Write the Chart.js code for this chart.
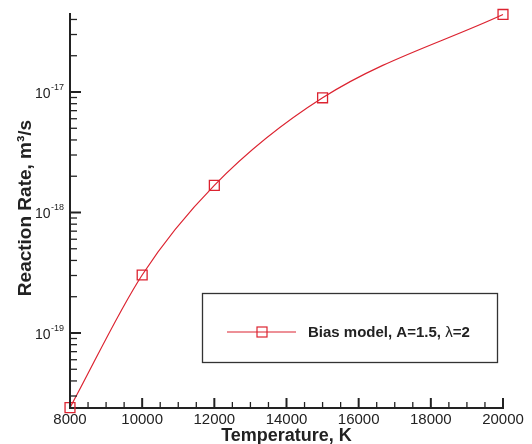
<!DOCTYPE html>
<html>
<head>
<meta charset="utf-8">
<script src="https://cdn.jsdelivr.net/npm/chart.js@4"></script>
<style>
    html, body { margin: 0; padding: 0; background: #fff; }
    #wrap { width: 532px; height: 444px; }
</style>
</head>
<body>
<div id="wrap"><canvas id="myLineChart" width="532" height="444"></canvas></div>
<script>
// data
var temperatures = [8000, 10000, 12000, 15000, 20000];
var rates = [2.4e-20, 3.03e-19, 1.68e-18, 8.95e-18, 4.4e-17];
var seriesLabel = 'Bias model, A=1.5, ';

// axes
var xTickValues = [8000, 10000, 12000, 14000, 16000, 18000, 20000];
var xMinorStep = 500;
var yDecades = [-19, -18, -17];
var xTitle = 'Temperature, K';
var yTitle = 'Reaction Rate, m\u00b3/s';

var lineColor = '#dc2330';
var axisColor = '#222222';
var fontFamily = '"Liberation Sans", Arial, Helvetica, sans-serif';

var decoPlugin = {
    id: 'decoPlugin',
    afterDraw: function(chart) {
        var ctx = chart.ctx;
        var xs = chart.scales.x;
        var ys = chart.scales.y;
        var area = chart.chartArea;
        ctx.save();
        ctx.strokeStyle = axisColor;
        ctx.fillStyle = axisColor;

        // x ticks, pointing up into the plot
        for (var v = xs.min; v <= xs.max + 1; v += xMinorStep) {
            var px = xs.getPixelForValue(v);
            var major = xTickValues.indexOf(v) !== -1;
            ctx.lineWidth = major ? 2 : 1.3;
            ctx.beginPath();
            ctx.moveTo(px, area.bottom);
            ctx.lineTo(px, area.bottom - (major ? 10 : 6));
            ctx.stroke();
        }
        ctx.font = '15px ' + fontFamily;
        ctx.textAlign = 'center';
        ctx.textBaseline = 'alphabetic';
        xTickValues.forEach(function(t) {
            ctx.fillText(String(t), xs.getPixelForValue(t), area.bottom + 16);
        });

        // y ticks, pointing right into the plot
        for (var e = yDecades[0] - 1; e <= yDecades[yDecades.length - 1]; e++) {
            for (var m = 1; m <= 9; m++) {
                var val = m * Math.pow(10, e);
                if (val < ys.min || val > ys.max) continue;
                var py = ys.getPixelForValue(val);
                ctx.lineWidth = m === 1 ? 2 : 1.3;
                ctx.beginPath();
                ctx.moveTo(area.left, py);
                ctx.lineTo(area.left + (m === 1 ? 11 : 7), py);
                ctx.stroke();
            }
        }
        yDecades.forEach(function(d) {
            var py = ys.getPixelForValue(Math.pow(10, d));
            var exp = String(d);
            ctx.font = '9px ' + fontFamily;
            var expW = ctx.measureText(exp).width;
            ctx.textAlign = 'left';
            ctx.fillText(exp, area.left - 6 - expW, py - 2);
            ctx.font = '14px ' + fontFamily;
            ctx.textAlign = 'right';
            ctx.fillText('10', area.left - 6.5 - expW, py + 6);
        });

        // axis titles
        ctx.font = 'bold 18px ' + fontFamily;
        ctx.textAlign = 'center';
        ctx.fillText(xTitle, (area.left + area.right) / 2, area.bottom + 33);
        ctx.save();
        ctx.translate(31, (area.top + area.bottom) / 2 - 3);
        ctx.rotate(-Math.PI / 2);
        ctx.font = 'bold 19px ' + fontFamily;
        ctx.fillText(yTitle, 0, 0);
        ctx.restore();

        // legend box inside the plot
        ctx.lineWidth = 1.3;
        ctx.strokeStyle = '#333333';
        ctx.strokeRect(202.5, 293.5, 295, 69);
        ctx.strokeStyle = lineColor;
        ctx.lineWidth = 1.2;
        ctx.beginPath();
        ctx.moveTo(227, 332);
        ctx.lineTo(296, 332);
        ctx.stroke();
        ctx.strokeRect(257, 327, 10, 10);
        ctx.fillStyle = axisColor;
        ctx.textAlign = 'left';
        var tx = 308;
        ctx.font = 'bold 15px ' + fontFamily;
        ctx.fillText(seriesLabel, tx, 337);
        tx += ctx.measureText(seriesLabel).width;
        ctx.font = '15px ' + fontFamily;
        ctx.fillText('\u03bb', tx, 337);
        tx += ctx.measureText('\u03bb').width;
        ctx.font = 'bold 15px ' + fontFamily;
        ctx.fillText('=2', tx, 337);

        ctx.restore();
    }
};

var points = temperatures.map(function(t, i) {
    return { x: t, y: rates[i] };
});

var ctx = document.getElementById('myLineChart').getContext('2d');
new Chart(ctx, {
    type: 'line',
    plugins: [decoPlugin],
    data: {
        datasets: [{
            data: points,
            borderColor: lineColor,
            borderWidth: 1.2,
            fill: false,
            cubicInterpolationMode: 'monotone',
            pointStyle: 'rect',
            pointRadius: 7,
            pointBorderWidth: 1.3,
            pointBorderColor: lineColor,
            pointBackgroundColor: 'rgba(0,0,0,0)',
            clip: false
        }]
    },
    options: {
        responsive: false,
        animation: false,
        layout: {
            padding: { left: 70, top: 14, right: 29, bottom: 36 }
        },
        plugins: {
            legend: { display: false },
            tooltip: { enabled: false }
        },
        scales: {
            x: {
                type: 'linear',
                bounds: 'data',
                min: 8000,
                max: 20000,
                grid: { display: false, drawTicks: false },
                border: { display: true, color: axisColor, width: 2 },
                ticks: { display: false }
            },
            y: {
                type: 'logarithmic',
                bounds: 'data',
                min: 2.385e-20,
                max: 4.44e-17,
                grid: { display: false, drawTicks: false },
                border: { display: true, color: axisColor, width: 2 },
                ticks: { display: false }
            }
        }
    }
});
</script>
</body>
</html>
